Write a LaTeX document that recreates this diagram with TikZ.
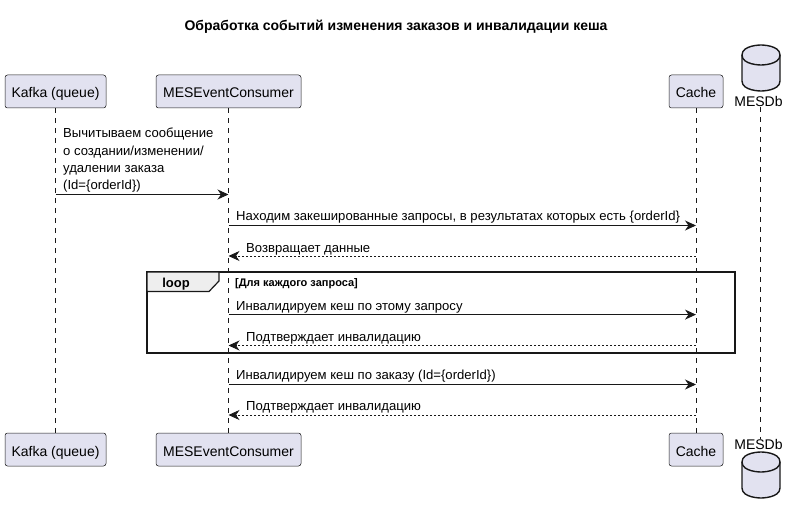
\documentclass[tikz,border=0pt]{standalone}
\usepackage{fontspec}
\setmainfont{Liberation Sans}
\usetikzlibrary{calc,positioning,arrows.meta}
\definecolor{partfill}{HTML}{E2E2F0}
\definecolor{partline}{HTML}{181818}
\definecolor{tabfill}{HTML}{EEEEEE}
\tikzset{
  part/.style={draw=partline,line width=0.5pt,fill=partfill,rounded corners=2.5pt,minimum height=33pt,inner sep=0pt,text height=13pt,text depth=0pt,font=\fontsize{14}{16}\selectfont},
  dbname/.style={inner sep=0pt,font=\fontsize{14}{16}\selectfont},
  dbcyl/.pic={
    \draw [draw=partline,line width=1.4pt,fill=partfill] (-19,10) .. controls (-19,0) and (0,0) .. (0,0) .. controls (0,0) and (19,0) .. (19,10) -- (19,36) .. controls (19,46) and (0,46) .. (0,46) .. controls (0,46) and (-19,46) .. (-19,36) -- cycle;
    \draw [draw=partline,line width=1.4pt] (-19,10) .. controls (-19,20) and (0,20) .. (0,20) .. controls (0,20) and (19,20) .. (19,10);
  },
  life/.style={draw=partline,line width=0.5pt,dash pattern=on 5pt off 5pt},
  msg/.style={draw=partline,line width=1pt,-{Stealth[length=11pt,width=10pt,inset=3.5pt]}},
  reply/.style={draw=partline,line width=0.8pt,dash pattern=on 2pt off 2pt,-{Stealth[length=11pt,width=10pt,inset=3.5pt]}},
  txt/.style={anchor=base west,inner sep=0pt,font=\fontsize{13.1}{17.5}\selectfont,align=left}
}
\begin{document}
\begin{tikzpicture}[x=1pt,y=-1pt]
\useasboundingbox (0,0) rectangle (795,513);
\node [inner sep=0pt,font=\bfseries\fontsize{14}{16}\selectfont] (Title) at (396,26.5) {Обработка событий изменения заказов и инвалидации кеша};
% participants
\node [part,minimum width=101pt] (KafkaTop) at (55.5,91.5) {Kafka (queue)};
\node [part,minimum width=145pt] (ConsumerTop) at (228.5,91.5) {MESEventConsumer};
\node [part,minimum width=54pt] (CacheTop) at (696,91.5) {Cache};
\pic at (761,45) {dbcyl};
\node [dbname] (DbTop) at (758.5,101.5) {MESDb};
\node [part,minimum width=101pt] (KafkaBottom) at (55.5,449.5) {Kafka (queue)};
\node [part,minimum width=145pt] (ConsumerBottom) at (228.5,449.5) {MESEventConsumer};
\node [part,minimum width=54pt] (CacheBottom) at (696,449.5) {Cache};
\node [dbname] (DbBottom) at (758.5,444) {MESDb};
\pic at (761,452) {dbcyl};
% lifelines
\draw [life] (KafkaTop) -- (KafkaBottom);
\draw [life] (ConsumerTop) -- (ConsumerBottom);
\draw [life] (CacheTop) -- (CacheBottom);
\draw [life] ($(DbTop.south)+(1.5,0)$) -- ($(DbBottom.north)+(1.5,0)$);
% messages
\foreach \name/\ypos in {A/194.5,B/225.5,C/256,D/314.6,E/345.5,F/384.5,G/415} {
  \coordinate (Kafka\name) at (KafkaTop |- 0,\ypos);
  \coordinate (Consumer\name) at (ConsumerTop |- 0,\ypos);
  \coordinate (Cache\name) at (CacheTop |- 0,\ypos);
}
\draw [msg] (KafkaA) -- (ConsumerA);
\draw [msg] (ConsumerB) -- (CacheB);
\draw [reply] (CacheC) -- (ConsumerC);
\draw [msg] (ConsumerD) -- (CacheD);
\draw [reply] (CacheE) -- (ConsumerE);
\draw [msg] (ConsumerF) -- (CacheF);
\draw [reply] (CacheG) -- (ConsumerG);
% loop
\draw [partline,line width=2pt] (147,272) rectangle (735,353);
\draw [partline,line width=1.2pt,fill=tabfill] (147,272) -- (219,272) -- (219,281) -- (209,291.5) -- (147,291.5) -- cycle;
\node [inner sep=0pt,font=\bfseries\fontsize{13}{15}\selectfont] (LoopTag) at (176,284) {loop};
\node [txt,font=\bfseries\fontsize{11}{13}\selectfont] (LoopGuard) at (235,286) {[Для каждого запроса]};
% labels
\node [txt] (LabelA) at (63,190) {Вычитываем сообщение\\о создании/изменении/\\удалении заказа\\(Id=\{orderId\})};
\node [txt] (LabelB) at (236,221) {Находим закешированные запросы, в результатах которых есть \{orderId\}};
\node [txt] (LabelC) at (246,252) {Возвращает данные};
\node [txt] (LabelD) at (236,310) {Инвалидируем кеш по этому запросу};
\node [txt] (LabelE) at (246,341) {Подтверждает инвалидацию};
\node [txt] (LabelF) at (236,379.5) {Инвалидируем кеш по заказу (Id=\{orderId\})};
\node [txt] (LabelG) at (246,410) {Подтверждает инвалидацию};
\end{tikzpicture}
\end{document}
